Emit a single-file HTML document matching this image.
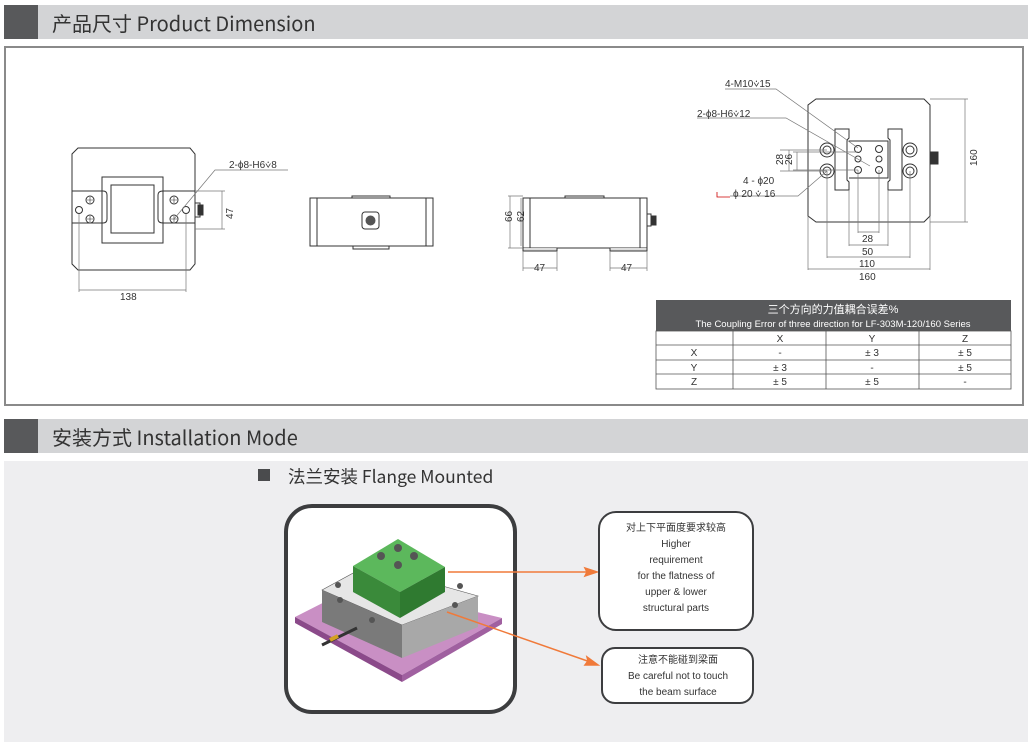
<!DOCTYPE html>
<html><head><meta charset="utf-8"><style>
body{margin:0;width:1028px;height:742px;background:#fff;position:relative;overflow:hidden;font-family:"Liberation Sans","Noto Sans CJK SC",sans-serif}
.hd{position:absolute;left:4px;width:1024px;height:34px;background:#d3d4d6}
.hd .sq{position:absolute;left:0;top:0;width:34px;height:34px;background:#58595b}
.hd .t{position:absolute;left:48px;top:3px;font-size:20px;color:#333;font-family:"Noto Sans CJK SC","Liberation Sans",sans-serif}
svg{position:absolute;left:0;top:0}
</style></head><body>
<div class="hd" style="top:5px"><div class="sq"></div><div class="t">产品尺寸 Product Dimension</div></div>
<div style="position:absolute;left:4px;top:46px;width:1016px;height:356px;border:2px solid #8a8a8a"></div>
<div class="hd" style="top:419px"><div class="sq"></div><div class="t">安装方式 Installation Mode</div></div>
<div style="position:absolute;left:4px;top:461px;width:1024px;height:281px;background:#eeeef0"></div>
<svg width="1028" height="742" viewBox="0 0 1028 742" font-family="Liberation Sans, Noto Sans CJK SC, sans-serif">
<g fill="none" stroke="#333" stroke-width="1">
<path d="M78 148 H190 L195 154 V264 L190 270 H78 L72 264 V154 Z"/>
<path d="M102 177 H163 V243 H102 Z"/>
<path d="M111 185 H154 V233 H111 Z"/>
<path d="M72 191 H103 Q107 191 107 195 V219 Q107 223 103 223 H72"/>
<path d="M195 191 H163 Q158 191 158 195 V219 Q158 223 163 223 H195"/>
<circle cx="90" cy="200" r="4"/><circle cx="90" cy="219" r="4"/><circle cx="79" cy="210" r="3.5"/>
<circle cx="174" cy="200" r="4"/><circle cx="174" cy="219" r="4"/><circle cx="186" cy="210" r="3.5"/>
<rect x="195" y="203" width="5" height="14"/>
<rect x="198" y="205" width="5" height="10" fill="#333"/>
</g>
<g stroke="#333" stroke-width="0.6">
<path d="M87 200 H93 M90 197 V203 M87 219 H93 M90 216 V222 M171 200 H177 M174 197 V203 M171 219 H177 M174 216 V222"/>
</g>
<g stroke="#777" stroke-width="0.7" fill="none">
<path d="M79 214 V292 M186 214 V292 M79 290 H186"/>
<path d="M195 191 H225 M195 229 H225 M222 191 V229"/>
<path d="M174 219 L215 170 H288"/>
</g>
<text x="229" y="168" font-size="10" fill="#333">2-ϕ8-H6⩒8</text>
<text x="219" y="215" font-size="10" fill="#333" transform="rotate(-90 228 210)">47</text>
<text x="120" y="300" font-size="10" fill="#333">138</text>
<g fill="none" stroke="#333">
<rect x="310" y="198" width="123" height="48"/>
<path d="M317 198 V246 M426 198 V246 M352 198 V196 H390 V198 M353 246 V249 H389 V246"/>
<rect x="362" y="212" width="17" height="17" rx="3"/>
</g>
<circle cx="370.5" cy="220.5" r="5" fill="#555"/>
<g fill="none" stroke="#333">
<rect x="523" y="198" width="124" height="50"/>
<path d="M530 198 V248 M640 198 V248 M565 198 V196 H604 V198"/>
<path d="M523 248 V251 H557 V248 M610 248 V251 H647 V248" fill="#ddd"/>
<rect x="647" y="214" width="4" height="12"/><rect x="651" y="216" width="5" height="9" fill="#333"/>
</g>
<g stroke="#777" stroke-width="0.7" fill="none">
<path d="M508 196 H523 M508 248 H523 M510 196 V248 M521 198 V246"/>
<path d="M523 251 V271 M557 251 V271 M523 268 H557 M610 251 V271 M647 251 V271 M610 268 H647"/>
</g>
<text x="506" y="228" font-size="10" fill="#333" transform="rotate(-90 506 222)">66</text>
<text x="518" y="228" font-size="10" fill="#333" transform="rotate(-90 518 222)">62</text>
<text x="534" y="271" font-size="10" fill="#333">47</text>
<text x="621" y="271" font-size="10" fill="#333">47</text>
<g fill="none" stroke="#333">
<path d="M816 99 H924 L930 105 V216 L924 222 H816 L808 216 V105 Z"/>
<path d="M835 129 H849 V138 L847 140 V180 L849 182 V190 H835 Z"/>
<path d="M888 129 H902 V190 H888 V182 L890 180 V140 L888 138 Z"/>
<path d="M849 141 H888 V178 H849"/>
<circle cx="827" cy="150" r="7"/><circle cx="827" cy="150" r="4"/>
<circle cx="827" cy="171" r="7"/><circle cx="827" cy="171" r="4"/>
<circle cx="910" cy="150" r="7"/><circle cx="910" cy="150" r="4"/>
<circle cx="910" cy="171" r="7"/><circle cx="910" cy="171" r="4"/>
<circle cx="858" cy="149" r="3.5"/><circle cx="879" cy="149" r="3.5"/>
<circle cx="858" cy="159" r="3"/><circle cx="879" cy="159" r="3"/>
<circle cx="858" cy="170" r="3.5"/><circle cx="879" cy="170" r="3.5"/>
<rect x="931" y="152" width="7" height="12" fill="#333"/>
</g>
<g stroke="#777" stroke-width="0.7" fill="none">
<path d="M725 89 H776 L858 148 M697 118 H786 L870 166 M730 196 H798 L827 171"/>
<path d="M780 150 H827 M780 171 H827 M789 150 V171 M793 152 H858 M793 170 H858 M797 152 V170"/>
<path d="M930 99 H968 M930 222 H968 M965 99 V222"/>
<path d="M858 170 V233 M879 170 V233 M858 232 H879 M849 190 V246 M888 190 V246 M849 245 H888 M827 171 V258 M910 171 V258 M827 257 H910 M808 216 V270 M930 216 V270 M808 269 H930"/>
</g>
<path d="M717 192 V197 H730" stroke="#c00" fill="none" stroke-width="0.8"/>
<g font-size="10" fill="#333">
<text x="725" y="87">4-M10⩒15</text>
<text x="697" y="117">2-ϕ8-H6⩒12</text>
<text x="743" y="184">4 - ϕ20</text>
<text x="733" y="197">ϕ 20 ⩒ 16</text>
<text x="862" y="242">28</text><text x="862" y="255">50</text><text x="859" y="267">110</text><text x="859" y="280">160</text>
<text x="775" y="165" transform="rotate(-90 779 161)">28</text>
<text x="784" y="165" transform="rotate(-90 788 161)">26</text>
<text x="967" y="166" transform="rotate(-90 972 161)">160</text>
</g>
<rect x="656" y="300" width="355" height="31" fill="#58595b"/>
<text x="833" y="313" font-size="11" fill="#fff" text-anchor="middle">三个方向的力值耦合误差%</text>
<text x="833" y="327" font-size="9.5" fill="#fff" text-anchor="middle">The Coupling Error of three direction for LF-303M-120/160 Series</text>
<g stroke="#555" stroke-width="0.8" fill="none">
<rect x="656" y="331" width="355" height="58"/>
<path d="M656 345 H1011 M656 360 H1011 M656 374 H1011 M733 331 V389 M826 331 V389 M919 331 V389"/>
</g>
<g font-size="10" fill="#333" text-anchor="middle">
<text x="780" y="342">X</text><text x="872" y="342">Y</text><text x="965" y="342">Z</text>
<text x="694" y="356">X</text><text x="780" y="356">-</text><text x="872" y="356">± 3</text><text x="965" y="356">± 5</text>
<text x="694" y="371">Y</text><text x="780" y="371">± 3</text><text x="872" y="371">-</text><text x="965" y="371">± 5</text>
<text x="694" y="385">Z</text><text x="780" y="385">± 5</text><text x="872" y="385">± 5</text><text x="965" y="385">-</text>
</g>
<rect x="258" y="469" width="12" height="12" fill="#4a4b4d"/>
<text x="288" y="483" font-size="17.5" fill="#333" font-family="Noto Sans CJK SC, sans-serif">法兰安装 Flange Mounted</text>
<rect x="286" y="506" width="229" height="206" rx="26" fill="#fff" stroke="#3c3d3f" stroke-width="4"/>
<path d="M295 617 L360 584 L502 618 L402 675 Z" fill="#c98fc4"/>
<path d="M295 617 L402 675 V682 L295 623 Z" fill="#8b4a8a"/>
<path d="M402 675 L502 618 V624 L402 682 Z" fill="#a060a0"/>
<path d="M322 590 L368 565 L478 596 L402 625 Z" fill="#e6e6e6" stroke="#555" stroke-width="0.6"/>
<path d="M322 590 L402 625 V658 L322 622 Z" fill="#7a7a7a"/>
<path d="M402 625 L478 596 V627 L402 658 Z" fill="#a8a8a8"/>
<path d="M353 566 L398 539 L445 567 L400 592 Z" fill="#5cb85c"/>
<path d="M353 566 L400 592 V618 L353 592 Z" fill="#3a8a3a"/>
<path d="M400 592 L445 567 V592 L400 618 Z" fill="#2f7a30"/>
<g fill="#555"><circle cx="381" cy="556" r="4"/><circle cx="398" cy="548" r="4"/><circle cx="414" cy="556" r="4"/><circle cx="398" cy="565" r="4"/>
<circle cx="340" cy="600" r="3"/><circle cx="372" cy="620" r="3"/><circle cx="455" cy="605" r="3"/><circle cx="460" cy="586" r="3"/><circle cx="338" cy="585" r="3"/></g>
<path d="M322 645 L357 628" stroke="#333" stroke-width="3"/>
<path d="M330 640 L338 636" stroke="#d4a020" stroke-width="4"/>
<g stroke="#f07a3a" stroke-width="1.5" fill="#f07a3a">
<path d="M448 572 H595"/><path d="M597 572 L585 568 L587 572 L585 576 Z"/>
<path d="M447 612 L596 664"/><path d="M598 665 L587 657 L588 661 L585 665 Z"/>
</g>
<rect x="599" y="512" width="154" height="118" rx="17" fill="#fff" stroke="#3c3d3f" stroke-width="2"/>
<rect x="602" y="648" width="151" height="55" rx="13" fill="#fff" stroke="#3c3d3f" stroke-width="2"/>
<g font-size="10" fill="#333" text-anchor="middle">
<text x="676" y="531">对上下平面度要求较高</text>
<text x="676" y="547">Higher</text>
<text x="676" y="563">requirement</text>
<text x="676" y="579">for the flatness of</text>
<text x="676" y="595">upper &amp; lower</text>
<text x="676" y="611">structural parts</text>
<text x="678" y="663">注意不能碰到梁面</text>
<text x="678" y="679">Be careful not to touch</text>
<text x="678" y="695">the beam surface</text>
</g>
</svg>
</body></html>
